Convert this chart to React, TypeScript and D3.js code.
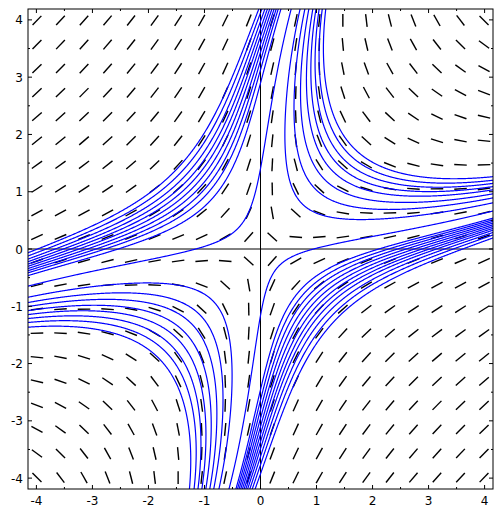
import React from 'react';
import * as d3 from 'd3';

const W = 502;
const H = 515;
const plot = { left: 28, right: 493, top: 9, bottom: 489 };

const xDomain: [number, number] = [-4.15, 4.15];
const yDomain: [number, number] = [-4.19, 4.19];
const majorTicks = [-4, -3, -2, -1, 0, 1, 2, 3, 4];
const minorTicks = [-3.5, -2.5, -1.5, -0.5, 0.5, 1.5, 2.5, 3.5];

// slope field dy/dx = (a1*x + a3*x^3 - y) / (x - b1*y - b3*y^3)
const fieldA1 = 0.26;
const fieldA3 = 0.008;
const fieldB1 = 0.1675;
const fieldB3 = 0.0125;
const fieldSamples = d3.range(20).map((i) => -3.99 + 0.42 * i);

// starting points of the solution curves
const upperLeftSeeds: [number, number][] = [
  [-1.95, 1], [-1.8, 1], [-1.65, 1], [-1.52, 1], [-1.4, 1],
  [-1.28, 1], [-1.16, 1], [-1.04, 1], [-0.92, 1], [-0.76, 1],
];
const upperRightSeeds: [number, number][] = [
  [0.28, 3], [0.5, 3], [0.62, 3], [0.72, 3], [0.82, 3],
  [0.9, 3], [0.98, 3], [1.06, 3], [1.15, 3],
];
const lowerRightSeeds: [number, number][] = [
  [0.5, -1], [0.6, -1], [0.7, -1], [0.8, -1], [0.9, -1], [1.0, -1],
  [1.1, -1], [1.2, -1], [1.32, -1], [1.45, -1], [1.6, -1],
];
const lowerLeftSeeds: [number, number][] = [
  [-0.3, -3], [-0.55, -3], [-0.68, -3], [-0.78, -3], [-0.88, -3],
  [-0.98, -3], [-1.08, -3], [-1.18, -3], [-1.3, -3],
];

function dir(x: number, y: number): [number, number] {
  const p = x - fieldB1 * y - fieldB3 * y * y * y;
  const q = fieldA1 * x + fieldA3 * x * x * x - y;
  const n = Math.hypot(p, q) || 1;
  return [p / n, q / n];
}

function trace(x0: number, y0: number, sign: number) {
  const pts: [number, number][] = [];
  let x = x0;
  let y = y0;
  const h = 0.01 * sign;
  for (let i = 0; i < 4000; i++) {
    pts.push([x, y]);
    if (Math.abs(x) > 4.4 || Math.abs(y) > 4.4) break;
    const k1 = dir(x, y);
    const k2 = dir(x + (h / 2) * k1[0], y + (h / 2) * k1[1]);
    const k3 = dir(x + (h / 2) * k2[0], y + (h / 2) * k2[1]);
    const k4 = dir(x + h * k3[0], y + h * k3[1]);
    x += (h / 6) * (k1[0] + 2 * k2[0] + 2 * k3[0] + k4[0]);
    y += (h / 6) * (k1[1] + 2 * k2[1] + 2 * k3[1] + k4[1]);
  }
  return pts;
}

function solution(seed: [number, number]) {
  const back = trace(seed[0], seed[1], -1).reverse();
  const fwd = trace(seed[0], seed[1], 1);
  return back.concat(fwd.slice(1));
}

export default function App() {
  const x = d3.scaleLinear().domain(xDomain).range([plot.left, plot.right]);
  const y = d3.scaleLinear().domain(yDomain).range([plot.bottom, plot.top]);
  const line = d3
    .line<[number, number]>()
    .x((d) => x(d[0]))
    .y((d) => y(d[1]));

  const seeds = [...upperLeftSeeds, ...upperRightSeeds, ...lowerRightSeeds, ...lowerLeftSeeds];
  const half = 0.112;

  return (
    <svg
      width={W}
      height={H}
      style={{ position: 'absolute', left: 0, top: 0, background: '#fff' }}
      fontFamily="DejaVu Sans"
      fontSize={12}
    >
      <defs>
        <clipPath id="plotClip">
          <rect x={plot.left} y={plot.top} width={plot.right - plot.left} height={plot.bottom - plot.top} />
        </clipPath>
      </defs>
      <g clipPath="url(#plotClip)">
        {fieldSamples.map((gx) =>
          fieldSamples.map((gy) => {
            const [dx, dy] = dir(gx, gy);
            return (
              <line
                key={`${gx}-${gy}`}
                x1={x(gx - dx * half)}
                y1={y(gy - dy * half)}
                x2={x(gx + dx * half)}
                y2={y(gy + dy * half)}
                stroke="#000"
                strokeWidth={1.4}
              />
            );
          })
        )}
        <line x1={x(0)} x2={x(0)} y1={plot.top} y2={plot.bottom} stroke="#000" strokeWidth={1} />
        <line x1={plot.left} x2={plot.right} y1={y(0)} y2={y(0)} stroke="#000" strokeWidth={1} />
        {seeds.map((s, i) => (
          <path key={i} d={line(solution(s)) || ''} fill="none" stroke="#0000ff" strokeWidth={1.2} />
        ))}
      </g>
      <rect
        x={plot.left}
        y={plot.top}
        width={plot.right - plot.left}
        height={plot.bottom - plot.top}
        fill="none"
        stroke="#000"
        strokeWidth={1}
      />
      {majorTicks.map((t) => (
        <g key={`mx${t}`}>
          <line x1={x(t)} x2={x(t)} y1={plot.bottom} y2={plot.bottom - 4} stroke="#000" />
          <line x1={x(t)} x2={x(t)} y1={plot.top} y2={plot.top + 4} stroke="#000" />
          <line x1={plot.left} x2={plot.left + 4} y1={y(t)} y2={y(t)} stroke="#000" />
          <line x1={plot.right} x2={plot.right - 4} y1={y(t)} y2={y(t)} stroke="#000" />
          <text x={x(t)} y={plot.bottom + 16} textAnchor="middle">{t}</text>
          <text x={plot.left - 5} y={y(t) + 4.5} textAnchor="end">{t}</text>
        </g>
      ))}
      {minorTicks.map((t) => (
        <g key={`mn${t}`}>
          <line x1={x(t)} x2={x(t)} y1={plot.bottom} y2={plot.bottom - 2} stroke="#000" />
          <line x1={x(t)} x2={x(t)} y1={plot.top} y2={plot.top + 2} stroke="#000" />
          <line x1={plot.left} x2={plot.left + 2} y1={y(t)} y2={y(t)} stroke="#000" />
          <line x1={plot.right} x2={plot.right - 2} y1={y(t)} y2={y(t)} stroke="#000" />
        </g>
      ))}
    </svg>
  );
}
